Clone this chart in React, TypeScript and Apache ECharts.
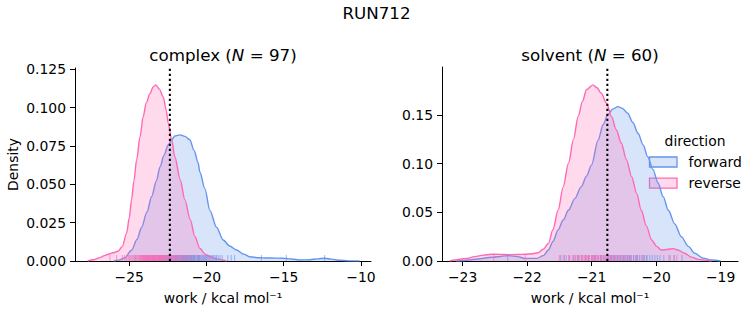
import React, { useEffect, useRef } from 'react';
import * as echarts from 'echarts';

const FONT = 'DejaVu Sans';
const BLUE = '#6495ED';
const PINK = '#FF69B4';

const suptitle = 'RUN712';
const panelNames = ['complex', 'solvent'];
const panelCounts = [97, 60];
const legendTitle = 'direction';
const directions = ['forward', 'reverse'];

// KDE curves: [work, density]
const complexForwardKde = [
  [-26.0, 0], [-25.7, 0.0006], [-25.3, 0.002], [-24.85, 0.007], [-24.5, 0.014], [-24.2, 0.022],
  [-23.85, 0.032], [-23.55, 0.042], [-23.25, 0.052], [-23.0, 0.0615], [-22.75, 0.069], [-22.48, 0.0756],
  [-22.25, 0.079], [-22.05, 0.0815], [-21.72, 0.0822], [-21.4, 0.0812], [-21.08, 0.079], [-20.8, 0.072],
  [-20.54, 0.064], [-20.43, 0.058], [-20.1, 0.047], [-19.78, 0.033], [-19.35, 0.022], [-18.92, 0.0137],
  [-18.5, 0.0098], [-18.06, 0.0072], [-17.6, 0.0045], [-17.2, 0.0028], [-16.6, 0.0021], [-16.12, 0.002],
  [-15.5, 0.0019], [-15.05, 0.0018], [-14.5, 0.0013], [-13.97, 0.0007], [-13.3, 0.0008], [-12.8, 0.0014],
  [-12.35, 0.0018], [-11.9, 0.0012], [-11.38, 0.0005], [-10.8, 0.0001], [-10.1, 0],
];
const complexReverseKde = [
  [-27.7, 0], [-27.3, 0.0008], [-26.9, 0.0022], [-26.6, 0.0035], [-26.36, 0.0044], [-26.0, 0.0055],
  [-25.7, 0.0065], [-25.45, 0.0095], [-25.17, 0.018], [-25.0, 0.028], [-24.85, 0.04], [-24.7, 0.052],
  [-24.52, 0.066], [-24.3, 0.081], [-24.1, 0.094], [-23.9, 0.103], [-23.66, 0.109], [-23.45, 0.1135],
  [-23.27, 0.1148], [-23.05, 0.112], [-22.8, 0.107], [-22.6, 0.098], [-22.48, 0.09], [-22.25, 0.079],
  [-22.05, 0.068], [-21.7, 0.053], [-21.4, 0.04], [-21.05, 0.027], [-20.75, 0.016], [-20.43, 0.0083],
  [-20.1, 0.0045], [-19.78, 0.0028], [-19.3, 0.0012], [-18.7, 0],
];
const solventForwardKde = [
  [-23.1, 0], [-23.02, 0.0002], [-22.8, 0.0018], [-22.55, 0.0038], [-22.29, 0.0055], [-22.15, 0.0045],
  [-22.03, 0.0027], [-21.85, 0.0027], [-21.75, 0.0055], [-21.67, 0.0113], [-21.6, 0.02], [-21.52, 0.0318],
  [-21.44, 0.042], [-21.36, 0.052], [-21.26, 0.064], [-21.16, 0.0763], [-21.08, 0.087], [-21.0, 0.0986],
  [-20.9, 0.124], [-20.82, 0.14], [-20.75, 0.15], [-20.67, 0.156], [-20.59, 0.1584], [-20.52, 0.1565],
  [-20.44, 0.1516], [-20.36, 0.142], [-20.28, 0.131], [-20.2, 0.119], [-20.13, 0.107], [-20.05, 0.094],
  [-19.97, 0.08], [-19.89, 0.066], [-19.81, 0.052], [-19.71, 0.038], [-19.61, 0.025], [-19.5, 0.015],
  [-19.4, 0.0079], [-19.27, 0.003], [-19.14, 0.001], [-19.0, 0],
];
const solventReverseKde = [
  [-23.2, 0], [-23.12, 0.001], [-22.95, 0.0025], [-22.81, 0.0045], [-22.68, 0.006], [-22.55, 0.0069],
  [-22.42, 0.0068], [-22.29, 0.0065], [-22.15, 0.0066], [-22.03, 0.0069], [-21.93, 0.0074], [-21.83, 0.0085],
  [-21.75, 0.012], [-21.67, 0.018], [-21.6, 0.032], [-21.52, 0.052], [-21.44, 0.076], [-21.36, 0.1],
  [-21.28, 0.125], [-21.21, 0.148], [-21.14, 0.164], [-21.08, 0.1756], [-20.98, 0.1807], [-20.92, 0.178],
  [-20.85, 0.172], [-20.77, 0.162], [-20.69, 0.148], [-20.62, 0.135], [-20.54, 0.121], [-20.46, 0.104],
  [-20.38, 0.0866], [-20.3, 0.069], [-20.23, 0.052], [-20.15, 0.036], [-20.07, 0.0216], [-19.99, 0.015],
  [-19.92, 0.0113], [-19.83, 0.0118], [-19.74, 0.0127], [-19.65, 0.011], [-19.56, 0.0079], [-19.45, 0.004],
  [-19.35, 0.0017], [-19.14, 0],
];

// Rug values (individual work values)
const complexForwardRug = [
  -24.62, -24.31, -24.05, -23.93, -23.81, -23.7, -23.66, -23.52, -23.44, -23.35, -23.21, -23.12, -23.04, -23.0,
  -22.97, -22.9, -22.83, -22.78, -22.71, -22.64, -22.6, -22.58, -22.52, -22.47, -22.41, -22.4, -22.36, -22.3,
  -22.26, -22.2, -22.14, -22.1, -22.05, -22.0, -21.99, -21.94, -21.9, -21.86, -21.81, -21.77, -21.72, -21.68,
  -21.63, -21.6, -21.55, -21.51, -21.5, -21.46, -21.42, -21.38, -21.33, -21.3, -21.29, -21.24, -21.2, -21.16,
  -21.11, -21.07, -21.02, -21.0, -20.97, -20.93, -20.88, -20.84, -20.8, -20.79, -20.73, -20.68, -20.62, -20.57,
  -20.51, -20.5, -20.45, -20.4, -20.33, -20.27, -20.2, -20.14, -20.07, -20.0, -19.93, -19.85, -19.78, -19.7,
  -19.61, -19.52, -19.44, -19.35, -19.24, -19.12, -18.98, -18.62, -18.4, -18.18, -16.44, -14.83, -12.35,
];
const complexReverseRug = [
  -26.25, -25.82, -25.45, -25.3, -25.18, -25.07, -24.98, -24.9, -24.82, -24.75, -24.68, -24.6, -24.54, -24.48,
  -24.42, -24.36, -24.3, -24.25, -24.2, -24.2, -24.14, -24.1, -24.09, -24.04, -24.0, -23.99, -23.94, -23.9,
  -23.89, -23.85, -23.8, -23.8, -23.76, -23.71, -23.7, -23.67, -23.62, -23.6, -23.58, -23.53, -23.5, -23.49,
  -23.45, -23.4, -23.4, -23.36, -23.32, -23.3, -23.28, -23.23, -23.2, -23.19, -23.15, -23.1, -23.1, -23.06,
  -23.02, -23.0, -22.97, -22.93, -22.9, -22.88, -22.84, -22.8, -22.79, -22.75, -22.7, -22.7, -22.65, -22.6,
  -22.55, -22.5, -22.44, -22.4, -22.38, -22.32, -22.26, -22.2, -22.13, -22.06, -22.0, -21.99, -21.92, -21.84,
  -21.76, -21.7, -21.67, -21.58, -21.48, -21.38, -21.26, -21.13, -20.98, -20.8, -20.55, -20.1, -19.8,
];
const solventForwardRug = [
  -22.3, -21.48, -21.42, -21.35, -21.28, -21.22, -21.2, -21.15, -21.1, -21.05, -21.04, -20.99, -20.95, -20.94,
  -20.9, -20.86, -20.85, -20.82, -20.78, -20.75, -20.74, -20.71, -20.7, -20.68, -20.65, -20.65, -20.62, -20.6,
  -20.59, -20.56, -20.55, -20.53, -20.5, -20.5, -20.47, -20.45, -20.44, -20.41, -20.4, -20.38, -20.35, -20.35,
  -20.32, -20.3, -20.29, -20.26, -20.22, -20.2, -20.18, -20.15, -20.14, -20.1, -20.06, -20.02, -19.98, -19.94,
  -19.88, -19.8, -19.72, -19.6,
];
const solventReverseRug = [
  -22.52, -22.03, -21.5, -21.44, -21.39, -21.35, -21.34, -21.3, -21.26, -21.25, -21.22, -21.2, -21.18, -21.15,
  -21.15, -21.12, -21.1, -21.09, -21.08, -21.06, -21.05, -21.03, -21.0, -21.0, -20.98, -20.97, -20.95, -20.95,
  -20.92, -20.9, -20.9, -20.87, -20.85, -20.84, -20.81, -20.8, -20.78, -20.75, -20.72, -20.7, -20.69, -20.66,
  -20.65, -20.63, -20.6, -20.58, -20.56, -20.52, -20.5, -20.48, -20.44, -20.42, -20.4, -20.35, -20.3, -20.25,
  -20.2, -19.78, -19.72, -19.68,
];

// Vertical reference lines (dotted)
const refLines = [-22.37, -20.756];

// Axis ranges and ticks
const xRanges = [[-28.51, -9.35], [-23.32, -18.73]];
const yRanges = [[0, 0.1258], [0, 0.199]];
const xTicks = [[-25, -20, -15, -10], [-23, -22, -21, -20, -19]];
const yTicks = [[0, 0.025, 0.05, 0.075, 0.1, 0.125], [0, 0.05, 0.1, 0.15]];
const yDecimals = [3, 2];
const xAxisTitle = 'work / kcal mol⁻¹';
const yAxisTitle = 'Density';

const grids = [
  { left: 75, top: 68, width: 296, height: 193 },
  { left: 442, top: 67, width: 296, height: 194 },
];

const fmtX = (v: number) => (v < 0 ? '\u2212' + Math.abs(v) : String(v));

function buildOption() {
  const textBase = { fontFamily: FONT, color: '#000' };
  const xAxis: any[] = [];
  const yAxis: any[] = [];
  const series: any[] = [];
  const kdes = [
    [complexForwardKde, complexReverseKde],
    [solventForwardKde, solventReverseKde],
  ];
  const rugs = [
    [complexForwardRug, complexReverseRug],
    [solventForwardRug, solventReverseRug],
  ];
  const colors = [BLUE, PINK];
  for (let p = 0; p < 2; p++) {
    xAxis.push({
      type: 'value',
      gridIndex: p,
      min: xRanges[p][0],
      max: xRanges[p][1],
      axisLine: { show: true, onZero: false, lineStyle: { color: '#000', width: 1 } },
      axisTick: { show: true, length: 5, lineStyle: { color: '#000', width: 1 }, customValues: xTicks[p] },
      axisLabel: { ...textBase, fontSize: 13.9, margin: 9, customValues: xTicks[p], formatter: fmtX },
      splitLine: { show: false },
      name: xAxisTitle,
      nameLocation: 'middle',
      nameGap: 30,
      nameTextStyle: { ...textBase, fontSize: 13.9 },
    });
    yAxis.push({
      type: 'value',
      gridIndex: p,
      min: yRanges[p][0],
      max: yRanges[p][1],
      axisLine: { show: true, onZero: false, lineStyle: { color: '#000', width: 1 } },
      axisTick: { show: true, length: 5, lineStyle: { color: '#000', width: 1 }, customValues: yTicks[p] },
      axisLabel: {
        ...textBase,
        fontSize: 13.9,
        margin: 9,
        customValues: yTicks[p],
        formatter: (v: number) => v.toFixed(yDecimals[p]),
      },
      splitLine: { show: false },
      name: p === 0 ? yAxisTitle : '',
      nameLocation: 'middle',
      nameGap: 55,
      nameRotate: 90,
      nameTextStyle: { ...textBase, fontSize: 13.9 },
    });
    for (let d = 0; d < 2; d++) {
      series.push({
        type: 'line',
        name: directions[d],
        xAxisIndex: p,
        yAxisIndex: p,
        data: kdes[p][d],
        symbol: 'none',
        smooth: 0.3,
        smoothMonotone: 'x',
        lineStyle: { color: colors[d], width: 1.4 },
        areaStyle: { color: colors[d], opacity: 0.25, origin: 'start' },
        z: 2 + d,
      });
    }
    for (let d = 0; d < 2; d++) {
      series.push({
        type: 'scatter',
        xAxisIndex: p,
        yAxisIndex: p,
        data: rugs[p][d].map((v) => [v, 0]),
        symbol: 'rect',
        symbolSize: [1.1, 6],
        symbolOffset: [0, -3],
        itemStyle: { color: colors[d], opacity: 0.6 },
        silent: true,
        z: 4,
      });
    }
    series.push({
      type: 'line',
      xAxisIndex: p,
      yAxisIndex: p,
      data: [
        [refLines[p], yRanges[p][0]],
        [refLines[p], yRanges[p][1]],
      ],
      symbol: 'none',
      lineStyle: { color: '#000', width: 2, type: [2.2, 2.8] },
      z: 5,
    });
  }

  const titleRich = { n: { fontFamily: FONT, fontStyle: 'italic', fontSize: 16.7, color: '#000' } };
  const graphic: any[] = [
    {
      type: 'text',
      x: 376.5,
      y: 13,
      style: { text: suptitle, fill: '#000', fontFamily: FONT, fontSize: 16.7, align: 'center', verticalAlign: 'middle' },
    },
  ];
  for (let p = 0; p < 2; p++) {
    graphic.push({
      type: 'text',
      x: grids[p].left + grids[p].width / 2,
      y: 55,
      style: {
        text: `${panelNames[p]} ({n|N} = ${panelCounts[p]})`,
        fill: '#000',
        fontFamily: FONT,
        fontSize: 16.7,
        rich: titleRich,
        align: 'center',
        verticalAlign: 'middle',
      },
    });
  }
  // legend
  graphic.push({
    type: 'text',
    x: 695,
    y: 141,
    style: { text: legendTitle, fill: '#000', fontFamily: FONT, fontSize: 13.9, align: 'center', verticalAlign: 'middle' },
  });
  const legendY = [162, 183.2];
  for (let d = 0; d < 2; d++) {
    graphic.push({
      type: 'rect',
      shape: { x: 649.5, y: legendY[d] - 5, width: 27.5, height: 10 },
      style: { fill: colors[d] === BLUE ? 'rgba(100,149,237,0.25)' : 'rgba(255,105,180,0.25)', stroke: colors[d], lineWidth: 1.3 },
    });
    graphic.push({
      type: 'text',
      x: 688.5,
      y: legendY[d],
      style: { text: directions[d], fill: '#000', fontFamily: FONT, fontSize: 13.9, align: 'left', verticalAlign: 'middle' },
    });
  }

  return {
    animation: false,
    backgroundColor: '#fff',
    grid: grids.map((g) => ({ ...g, containLabel: false, outerBoundsMode: 'none' })),
    xAxis,
    yAxis,
    series,
    graphic,
  };
}

export default function App() {
  const ref = useRef<HTMLDivElement>(null);
  useEffect(() => {
    const chart = echarts.init(ref.current!, null, { renderer: 'svg' });
    chart.setOption(buildOption() as any);
    return () => chart.dispose();
  }, []);
  return (
    <div
      ref={ref}
      style={{ position: 'fixed', left: 0, top: 0, width: 753, height: 325, background: '#fff' }}
    />
  );
}
